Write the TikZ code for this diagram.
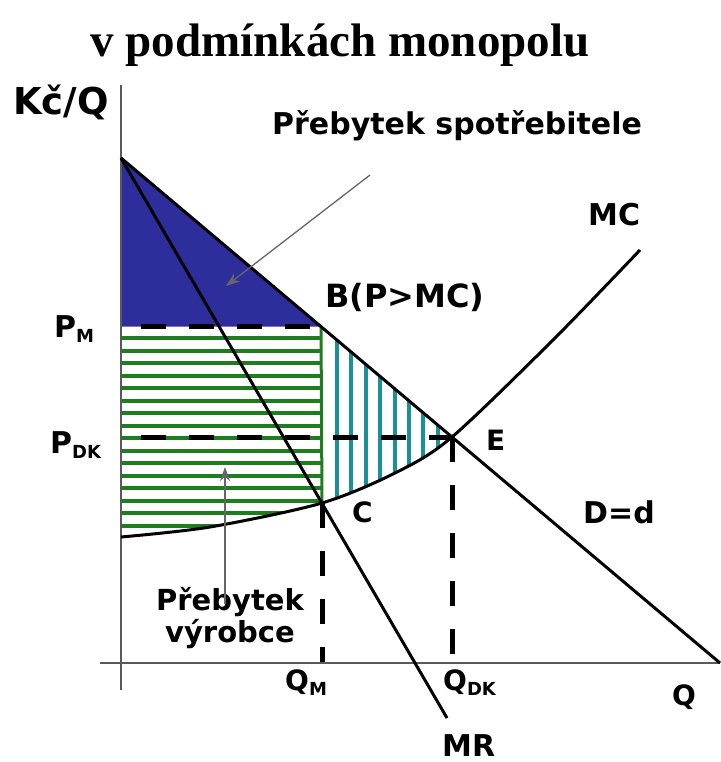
\documentclass[tikz,border=0pt]{standalone}
\usepackage{fontspec}
\setmainfont{DejaVu Sans}
\newfontfamily\titlefont{Liberation Serif}
\usetikzlibrary{arrows.meta}
\definecolor{surplusblue}{RGB}{45,45,155}
\definecolor{hatchgreen}{RGB}{30,125,30}
\definecolor{hatchteal}{RGB}{25,145,150}
\newcommand{\lblsub}[1]{\raisebox{-5pt}{\fontsize{18}{20}\selectfont #1}}
\begin{document}
\begin{tikzpicture}[x=1pt,y=-1pt,
  lbl/.style={font=\fontsize{30}{36}\selectfont\bfseries, inner sep=0pt, anchor=base west},
  curve/.style={line width=3pt, black},
  dashline/.style={line width=5pt, black, dash pattern=on 25pt off 23pt},
  axisline/.style={line width=2pt, black!65},
  pointer/.style={line width=1.3pt, black!60, -{Stealth[length=14pt,width=10pt]}},
  greenhatch/.style={line width=4pt, hatchgreen},
  tealhatch/.style={line width=4pt, hatchteal}]
\useasboundingbox (0,0) rectangle (720,762);
% key points
\coordinate (top) at (121,158);
\coordinate (PM) at (121,326.6);
\coordinate (PDK) at (121,437);
\coordinate (B) at (321,326.6);
\coordinate (C) at (322,503);
\coordinate (E) at (452,437);
\coordinate (QM) at (322,663);
\coordinate (QDK) at (452,663);
\coordinate (Dend) at (720,663);
\coordinate (MRend) at (447,718);
\coordinate (MCstart) at (121,537);
\coordinate (MCend) at (640,250);
\coordinate (yaxtop) at (121,85);
\coordinate (yaxbot) at (121,690);
\coordinate (xaxleft) at (100,663);
\coordinate (xaxright) at (720,663);
% consumer surplus
\fill[surplusblue] (top) -- (PM) -- (B) -- cycle;
% producer surplus, green horizontal hatching
\begin{scope}
  \clip plot[smooth] coordinates {(121,537) (210,527) (322,503) (397,472) (452,437) (553,340) (640,250)} -- (640,0) -- (0,0) -- (0,537) -- cycle;
  \clip (121,326.6) rectangle (322,700);
  \foreach \yy in {338,350.5,...,545} {
    \draw[greenhatch] (121,\yy) -- (322,\yy);
  }
\end{scope}
\draw[line width=3pt, hatchgreen] (B) -- (C);
% deadweight triangle, teal vertical hatching
\begin{scope}
  \clip plot[smooth] coordinates {(121,537) (210,527) (322,503) (397,472) (452,437) (553,340) (640,250)} -- (640,0) -- (0,0) -- (0,537) -- cycle;
  \clip (B) -- (Dend) -- (720,800) -- (322,800) -- cycle;
  \foreach \xx in {337,351.4,...,460} {
    \draw[tealhatch] (\xx,300) -- (\xx,520);
  }
\end{scope}
% dashed guides
\draw[dashline, dash phase=28pt] (PM) -- (B);
\draw[dashline, dash phase=28pt] (PDK) -- (E);
\draw[dashline] (C) -- (QM);
\draw[dashline] (E) -- (QDK);
% axes
\draw[axisline] (yaxtop) -- (yaxbot);
\draw[axisline] (xaxleft) -- (xaxright);
% curves
\draw[curve] (top) -- (Dend);
\draw[curve] (top) -- (MRend);
\draw[curve] plot[smooth] coordinates {(121,537) (210,527) (322,503) (397,472) (452,437) (553,340) (640,250)};
% title
\node[font=\titlefont\bfseries\fontsize{47}{50}\selectfont, inner sep=0pt, anchor=base] (title) at (340,57) {v podmínkách monopolu};
% labels
\node[lbl, font=\fontsize{37}{40}\selectfont\bfseries] (kcq) at (13,115) {Kč/Q};
\node[lbl] (cslabel) at (272,135) {Přebytek spotřebitele};
\node[lbl, font=\fontsize{32}{36}\selectfont\bfseries] (blabel) at (325,307) {B(P>MC)};
\node[lbl] (mclabel) at (588,225) {MC};
\node[lbl] (pmlabel) at (54,337) {P\lblsub{M}};
\node[lbl] (pdklabel) at (50,453) {P\lblsub{DK}};
\node[lbl, font=\fontsize{28}{32}\selectfont\bfseries] (elabel) at (486,450) {E};
\node[lbl, font=\fontsize{28}{32}\selectfont\bfseries] (clabel) at (352,522) {C};
\node[lbl] (ddlabel) at (583,523) {D=d};
\node[font=\fontsize{29}{32}\selectfont\bfseries, inner sep=0pt, anchor=base, align=center] (pslabel) at (230,642) {Přebytek\\výrobce};
\node[lbl, font=\fontsize{28}{32}\selectfont\bfseries] (qmlabel) at (285,690) {Q\lblsub{M}};
\node[lbl, font=\fontsize{28}{32}\selectfont\bfseries] (qdklabel) at (443,690) {Q\lblsub{DK}};
\node[lbl, font=\fontsize{28}{32}\selectfont\bfseries] (qlabel) at (672,705) {Q};
\node[lbl] (mrlabel) at (442,756) {MR};
% pointers
\coordinate (csarrow) at (226,286);
\coordinate (psarrow) at (225,467);
\draw[pointer] (370,175) -- (csarrow);
\draw[pointer] (225,604) -- (psarrow);
\end{tikzpicture}
\end{document}
